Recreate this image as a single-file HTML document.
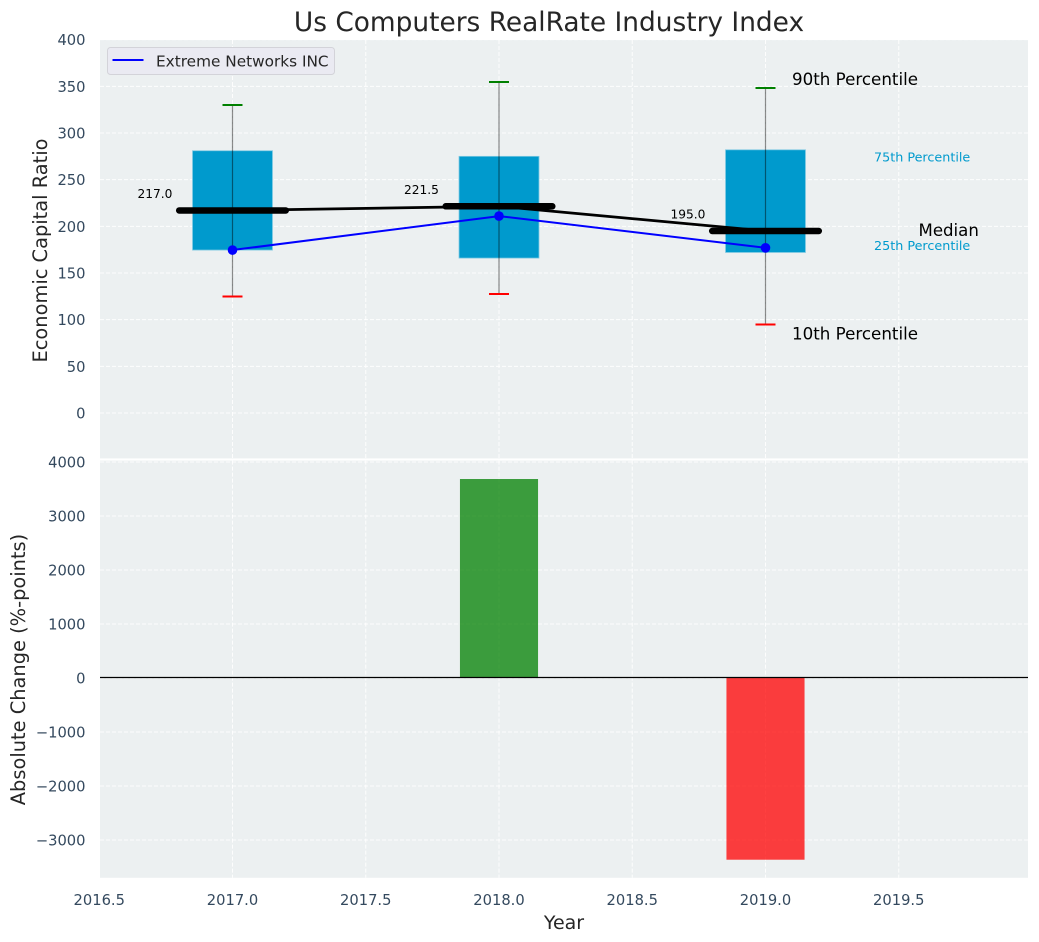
<!DOCTYPE html>
<html lang="en">
<head>
<meta charset="utf-8">
<title>Us Computers RealRate Industry Index</title>
<style>
html,body{margin:0;padding:0;background:#fff;}
svg{display:block;font-family:"DejaVu Sans","Liberation Sans",sans-serif;}
</style>
</head>
<body>
<svg id="chart" xmlns="http://www.w3.org/2000/svg" width="1039" height="942" viewBox="0 0 1039 942">
  <rect x="0" y="0" width="1039" height="942" fill="#ffffff"/>
  <rect x="100" y="40" width="928" height="418.4" fill="#ecf0f1"/>
  <rect x="100" y="460.6" width="928" height="417.2" fill="#ecf0f1"/>
  <text x="549" y="31" font-size="26.4" text-anchor="middle" fill="#262626">Us Computers RealRate Industry Index</text>
  <text transform="translate(47,250.5) rotate(-90)" font-size="19.4" text-anchor="middle" fill="#262626">Economic Capital Ratio</text>
  <text transform="translate(25,669.5) rotate(-90)" font-size="19.4" text-anchor="middle" fill="#262626">Absolute Change (%-points)</text>
  <text x="564" y="929" font-size="19" text-anchor="middle" fill="#262626">Year</text>
  <g id="grid"></g>
  <g id="ticks"></g>
  <g id="bars"></g>
  <g id="boxes"></g>
  <g id="lines"></g>
  <g id="notes"></g>
  <g>
    <rect x="107.5" y="47.5" width="227" height="27" rx="3" fill="#eaeaf2" stroke="#d3d3d9" stroke-width="1"/>
    <line x1="112.5" y1="60" x2="143.5" y2="60" stroke="#0000ff" stroke-width="2"/>
    <text x="156" y="66.5" font-size="15.3" fill="#262626">Extreme Networks INC</text>
  </g>
</svg>
<script>
const years = [2017, 2018, 2019];
const p90 = [330, 354.7, 348];
const p75 = [281, 275, 282];
const median = [217, 221.5, 195];
const p25 = [174.6, 166, 172];
const p10 = [125, 127.5, 95];
const company = [174.6, 211, 177];
const change = [0, 3685, -3365];
const xTicks = [2016.5, 2017, 2017.5, 2018, 2018.5, 2019, 2019.5];
const xTickLabels = ['2016.5', '2017.0', '2017.5', '2018.0', '2018.5', '2019.0', '2019.5'];
const topTicks = [0, 50, 100, 150, 200, 250, 300, 350, 400];
const bottomTicks = [-3000, -2000, -1000, 0, 1000, 2000, 3000, 4000];
const boxWidth = 0.3;
const barWidth = 0.293;
const capWidth = 0.075;
const medianHalf = 0.2;

const NS = 'http://www.w3.org/2000/svg';
const xAxis = v => 232.5 + (v - 2017) * 266.5;
const yTop = v => 413 - v * 0.9333;
const yBottom = v => 678 - v * 0.054;

function make(parent, tag, attrs, text) {
  const el = document.createElementNS(NS, tag);
  for (const k in attrs) el.setAttribute(k, attrs[k]);
  if (text !== undefined) el.textContent = text;
  document.getElementById(parent).appendChild(el);
  return el;
}
const gridStyle = {stroke: '#ffffff', 'stroke-width': 1, 'stroke-dasharray': '4 2', opacity: 0.9};

xTicks.forEach((t, i) => {
  const a = make('grid', 'line', Object.assign({x1: xAxis(t), x2: xAxis(t), y1: 40, y2: 458.4}, gridStyle));
  
  
  const b = make('grid', 'line', Object.assign({x1: xAxis(t), x2: xAxis(t), y1: 460.6, y2: 877.8}, gridStyle));
  
  
  const l = make('ticks', 'text', {x: xAxis(t), y: 905, 'font-size': 14.7, 'text-anchor': 'middle', fill: '#34495e'}, xTickLabels[i]);
  
  
});
topTicks.forEach(t => {
  const g = make('grid', 'line', Object.assign({x1: 100, x2: 1028, y1: yTop(t), y2: yTop(t)}, gridStyle));
  
  
  const l = make('ticks', 'text', {x: 85.5, y: yTop(t) + 5.5, 'font-size': 14.7, 'text-anchor': 'end', fill: '#34495e'}, String(t));
  
  
});
bottomTicks.forEach(t => {
  const g = make('grid', 'line', Object.assign({x1: 100, x2: 1028, y1: yBottom(t), y2: yBottom(t)}, gridStyle));
  
  
  const l = make('ticks', 'text', {x: 85.5, y: yBottom(t) + 5.5, 'font-size': 14.7, 'text-anchor': 'end', fill: '#34495e'}, String(t).replace('-', '\u2212'));
  
  
});

years.forEach((yr, i) => {
  const w = xAxis(yr + barWidth / 2) - xAxis(yr - barWidth / 2);
  const v = change[i];
  if (v !== 0) {
    const bar = make('bars', 'rect', {
      x: xAxis(yr) - w / 2, width: w,
      y: Math.min(yBottom(v), yBottom(0)), height: Math.abs(yBottom(v) - yBottom(0)),
      fill: v > 0 ? '#008000' : '#ff0000', 'fill-opacity': 0.75
    });
    
    
  }
});
const zero = make('bars', 'line', {x1: 100, x2: 1028, y1: yBottom(0) - 0.5, y2: yBottom(0) - 0.5, stroke: '#000000', 'stroke-width': 1.3});



years.forEach((yr, i) => {
  const w = xAxis(yr + boxWidth / 2) - xAxis(yr - boxWidth / 2);
  const box = make('boxes', 'rect', {
    x: xAxis(yr) - w / 2, width: w, y: yTop(p75[i]), height: yTop(p25[i]) - yTop(p75[i]),
    fill: '#009acd', stroke: '#7cc8e2', 'stroke-width': 0.8
  });
  
  
  const whisker = make('boxes', 'line', {x1: xAxis(yr), x2: xAxis(yr), y1: yTop(p90[i]), y2: yTop(p10[i]), stroke: '#000000', 'stroke-opacity': 0.45, 'stroke-width': 1.2});
  
  
  const hi = make('boxes', 'line', {x1: xAxis(yr - capWidth / 2), x2: xAxis(yr + capWidth / 2), y1: yTop(p90[i]), y2: yTop(p90[i]), stroke: '#008000', 'stroke-width': 2, 'shape-rendering': 'crispEdges'});
  
  
  const lo = make('boxes', 'line', {x1: xAxis(yr - capWidth / 2), x2: xAxis(yr + capWidth / 2), y1: yTop(p10[i]), y2: yTop(p10[i]), stroke: '#ff0000', 'stroke-width': 2, 'shape-rendering': 'crispEdges'});
  
  
});

const medianPath = make('lines', 'polyline', {
  points: years.map((yr, i) => xAxis(yr) + ',' + yTop(median[i])).join(' '),
  fill: 'none', stroke: '#000000', 'stroke-width': 2.8
});


years.forEach((yr, i) => {
  const seg = make('lines', 'line', {x1: xAxis(yr - medianHalf), x2: xAxis(yr + medianHalf), y1: yTop(median[i]), y2: yTop(median[i]), stroke: '#000000', 'stroke-width': 6.5, 'stroke-linecap': 'round'});
  
  
  const note = make('notes', 'text', {x: xAxis(yr) - 95, y: yTop(median[i]) - 12.5, 'font-size': 12.2, fill: '#000000'}, median[i].toFixed(1));
  
  
});
const companyPath = make('lines', 'polyline', {
  points: years.map((yr, i) => xAxis(yr) + ',' + yTop(company[i])).join(' '),
  fill: 'none', stroke: '#0000ff', 'stroke-width': 2
});


years.forEach((yr, i) => {
  const dot = make('lines', 'circle', {cx: xAxis(yr), cy: yTop(company[i]), r: 4.8, fill: '#0000ff'});
  
  
});

const last = years.length - 1;
const n90 = make('notes', 'text', {x: xAxis(years[last]) + 26.5, y: yTop(p90[last]) - 3, 'font-size': 16.7, fill: '#000000'}, '90th Percentile');


const n10 = make('notes', 'text', {x: xAxis(years[last]) + 26.5, y: yTop(p10[last]) + 15, 'font-size': 16.7, fill: '#000000'}, '10th Percentile');


const n75 = make('notes', 'text', {x: xAxis(years[last]) + 108.5, y: yTop(p75[last]) + 11.5, 'font-size': 12.75, fill: '#009acd'}, '75th Percentile');


const n25 = make('notes', 'text', {x: xAxis(years[last]) + 108.5, y: yTop(p25[last]) - 2.5, 'font-size': 12.75, fill: '#009acd'}, '25th Percentile');


const nm = make('notes', 'text', {x: xAxis(years[last]) + 153, y: yTop(median[last]) + 5, 'font-size': 16.6, fill: '#000000'}, 'Median');


</script>
</body>
</html>
